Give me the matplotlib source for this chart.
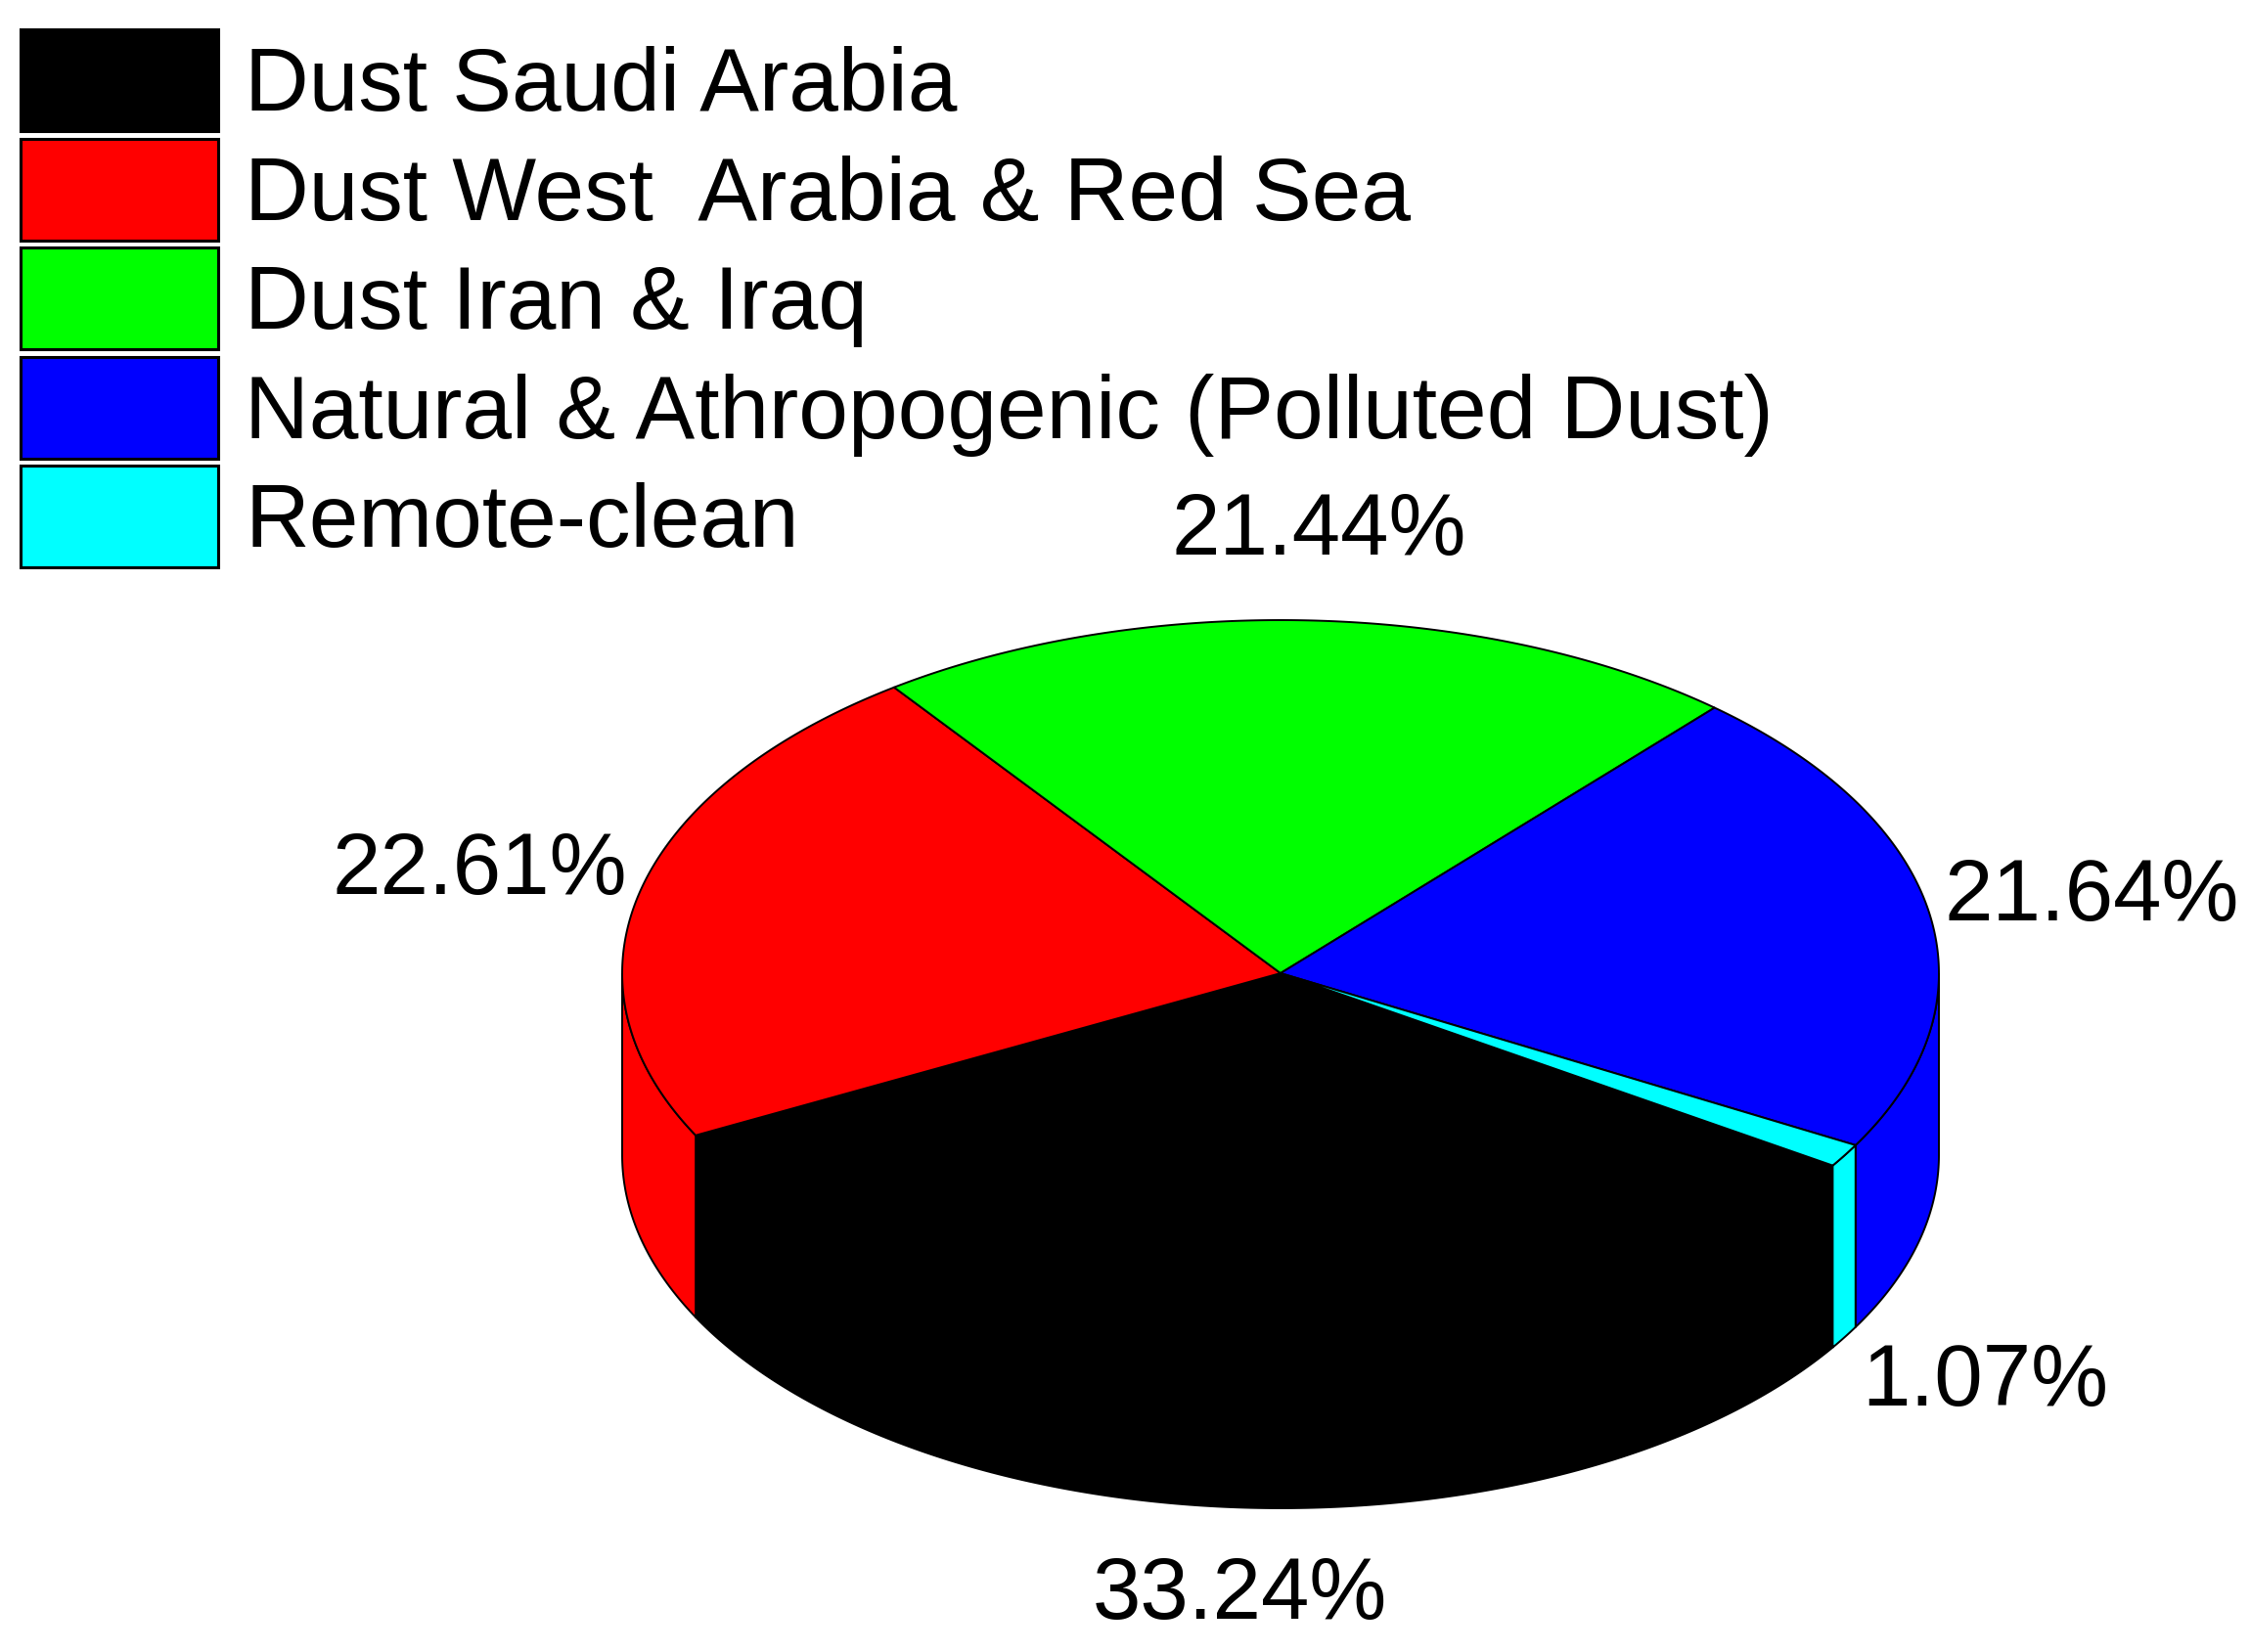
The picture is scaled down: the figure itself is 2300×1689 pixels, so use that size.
import numpy as np
import matplotlib.pyplot as plt
from matplotlib.patches import Polygon, Rectangle

plt.rcParams['font.family'] = ['Liberation Sans', 'DejaVu Sans']

labels = ['Dust Saudi Arabia', 'Dust West  Arabia & Red Sea', 'Dust Iran & Iraq',
          'Natural & Athropogenic (Polluted Dust)', 'Remote-clean']
shares = [33.24, 22.61, 21.44, 21.64, 1.07]
colors = ['#000000', '#ff0000', '#00ff00', '#0000ff', '#00ffff']

# pie geometry in pixels
cx, cy = 1309, 995
ra, rb = 673, 361
depth = 186
start = 327.0

fig = plt.figure(figsize=(23, 16.89), dpi=100)
ax = fig.add_axes([0, 0, 1, 1])
ax.set_xlim(0, 2300)
ax.set_ylim(1689, 0)
ax.axis('off')


def arc(t1, t2, dy=0):
    t = np.radians(np.linspace(t1, t2, 200))
    return np.column_stack([cx + ra * np.cos(t), cy - rb * np.sin(t) + dy])


# slice angles, going clockwise from start
bounds = []
a = start
for s in shares:
    b = a - s / 100 * 360
    bounds.append((b, a))
    a = b

# side walls (front half only)
for (t1, t2), c in zip(bounds, colors):
    for k in (-1, 0, 1):
        lo = max(t1, 180 + 360 * k)
        hi = min(t2, 360 + 360 * k)
        if hi > lo:
            top = arc(lo, hi)
            bot = arc(hi, lo, depth)
            ax.add_patch(Polygon(np.vstack([top, bot]), closed=True,
                                 facecolor=c, edgecolor='black', lw=1.4))

# top faces
for (t1, t2), c in zip(bounds, colors):
    pts = np.vstack([[cx, cy], arc(t1, t2)])
    ax.add_patch(Polygon(pts, closed=True, facecolor=c, edgecolor='black', lw=1.4))

# percent labels
for (t1, t2), s in zip(bounds, shares):
    m = np.radians((t1 + t2) / 2)
    x = cx + 1.25 * ra * np.cos(m)
    y = cy - 1.25 * rb * np.sin(m)
    if np.sin(m) < 0:
        y += depth
    ax.text(x, y, f'{s:.2f}%', fontsize=64, ha='center', va='center')

# legend
for i, (lab, c) in enumerate(zip(labels, colors)):
    y0 = 30 + 111.5 * i
    ax.add_patch(Rectangle((21, y0), 202, 104, facecolor=c, edgecolor='black', lw=2.2))
    ax.text(250, y0 + 83, lab, fontsize=65.5, ha='left', va='baseline')

fig.savefig('out.png', dpi=100)
